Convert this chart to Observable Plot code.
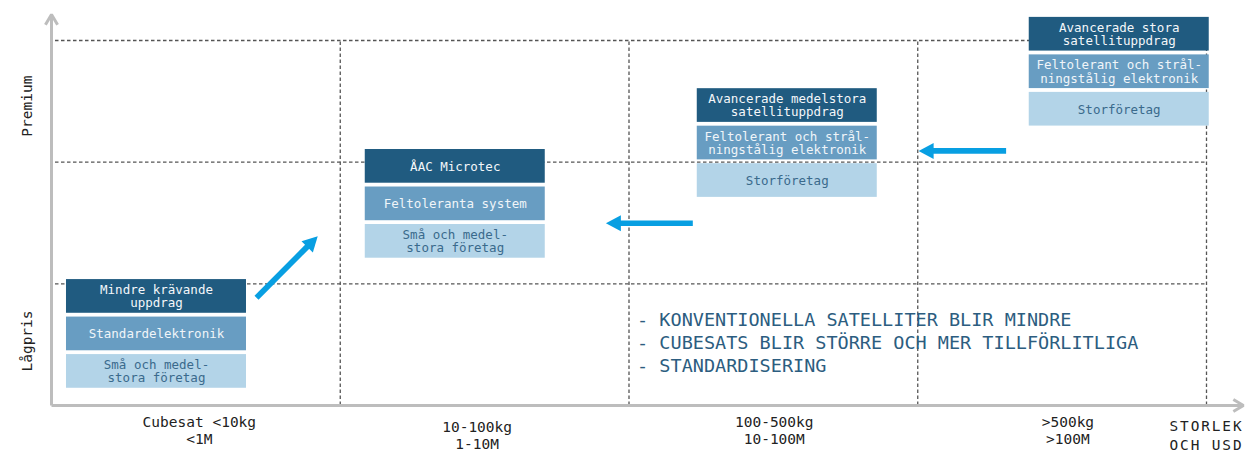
<!DOCTYPE html>
<html><head><meta charset="utf-8">
<script src="https://cdn.jsdelivr.net/npm/d3@7"></script>
<script src="https://cdn.jsdelivr.net/npm/@observablehq/plot@0.6"></script>
<style>body{margin:0;background:#fff}</style>
</head><body><div id="chart"></div>
<script>
// ---- data ----
const sizeLabels = ["Cubesat <10kg\n<1M", "10-100kg\n1-10M", "100-500kg\n10-100M", ">500kg\n>100M"];
const sizeLabelX = [0.512, 1.474, 2.503, 3.52];
const priceLabels = ["Lågpris", "Premium"];
const priceLabelY = [0.53, 2.46];
const axisTitle = "STORLEK\nOCH USD";

const missions = ["Mindre krävande\nuppdrag", "ÅAC Microtec", "Avancerade medelstora\nsatellituppdrag", "Avancerade stora\nsatellituppdrag"];
const electronics = ["Standardelektronik", "Feltoleranta system", "Feltolerant och strål-\nningstålig elektronik", "Feltolerant och strål-\nningstålig elektronik"];
const customers = ["Små och medel-\nstora företag", "Små och medel-\nstora företag", "Storföretag", "Storföretag"];
const boxCenterX = [0.3636, 1.3983, 2.5481, 3.6978];
const boxTopY = [1.035, 2.104, 2.604, 3.19];

const trends = ["- KONVENTIONELLA SATELLITER BLIR MINDRE", "- CUBESATS BLIR STÖRRE OCH MER TILLFÖRLITLIGA", "- STANDARDISERING"];
const trendX = 2.028;
const trendY = 0.79;

const moveX1 = [0.710, 2.221, 3.306];
const moveY1 = [0.885, 1.498, 2.092];
const moveX2 = [0.922, 1.920, 3.003];
const moveY2 = [1.392, 1.498, 2.092];

const gridX = [1, 2, 3, 4];
const gridY = [1, 2, 3];

// ---- layout ----
const W = 1247, H = 453, ML = 51, MR = 41, MT = 40, MB = 48;
const XMAX = 4, YMAX = 3;
const kx = (W - ML - MR) / XMAX, ky = (H - MT - MB) / YMAX;
const BW = 180 / kx, BH = 33.7 / ky, STEP = 37.5 / ky;
const tierFill = ["#205b80", "#689dc2", "#b3d4e8"];
const tierText = ["#f4f7fa", "#f0f5f9", "#3a6a8c"];
const BLUE = "#089fe2";

const tiers = [missions, electronics, customers];
const boxes = tiers.flatMap((labels, t) => labels.map((label, i) => ({
  label, t, i,
  x1: boxCenterX[i] - BW / 2, x2: boxCenterX[i] + BW / 2,
  y2: boxTopY[i] - t * STEP, y1: boxTopY[i] - t * STEP - BH
})));

const moves = moveX1.map((x1, i) => ({x1, y1: moveY1[i], x2: moveX2[i], y2: moveY2[i],
  rot: Math.atan2((moveX2[i] - x1) * kx, (moveY2[i] - moveY1[i]) * ky) * 180 / Math.PI}));

const axesArrows = [
  {x1: 0, y1: 0, x2: 0, y2: 3.213},
  {x1: 0, y1: 0, x2: 4.128, y2: 0}
];

const ticks = sizeLabels.map((text, i) => ({text, x: sizeLabelX[i], i}));

const chart = Plot.plot({
  width: W, height: H,
  marginLeft: ML, marginRight: MR, marginTop: MT, marginBottom: MB,
  x: {domain: [0, XMAX], axis: null},
  y: {domain: [0, YMAX], axis: null},
  color: {type: "identity"},
  style: {fontFamily: "'DejaVu Sans Mono', monospace", background: "#fff", overflow: "visible"},
  marks: [
    Plot.ruleX(gridX, {y1: 0, y2: YMAX, stroke: "#555", strokeWidth: 1.3, strokeDasharray: "3.5,2.5"}),
    Plot.ruleY(gridY, {x1: 0, x2: XMAX, insetLeft: 4, stroke: "#555", strokeWidth: 1.3, strokeDasharray: "3.5,2.5"}),
    Plot.arrow(axesArrows, {x1: "x1", y1: "y1", x2: "x2", y2: "y2", stroke: "#bdbdbd", strokeWidth: 3, headLength: 5.9, headAngle: 62, strokeLinecap: "butt"}),
    Plot.rect(boxes, {x1: "x1", x2: "x2", y1: "y1", y2: "y2", fill: d => tierFill[d.t]}),
    Plot.text(boxes, {x: d => (d.x1 + d.x2) / 2, y: d => (d.y1 + d.y2) / 2, text: "label", fill: d => tierText[d.t], fontSize: 12.5, lineHeight: 1.07}),
    Plot.arrow(moves, {x1: "x1", y1: "y1", x2: "x2", y2: "y2", stroke: BLUE, strokeWidth: 5.7, headLength: 0, insetEnd: 13, strokeLinecap: "butt"}),
    Plot.vector(moves, {x: "x2", y: "y2", rotate: "rot", length: 15, r: 8, anchor: "end", shape: "spike", fill: BLUE, stroke: "none"}),
    Plot.text([trends.join("\n")], {x: trendX, y: trendY, textAnchor: "start", lineAnchor: "top", fontSize: 18.5, lineHeight: 1.243, fill: "#2c5d80"}),
    Plot.text(ticks.filter(d => d.i !== 1), {x: "x", text: "text", frameAnchor: "bottom", lineAnchor: "top", dy: 10, fontSize: 14.5, lineHeight: 1.14, fill: "#222"}),
    Plot.text(ticks.filter(d => d.i === 1), {x: "x", text: "text", frameAnchor: "bottom", lineAnchor: "top", dy: 15, fontSize: 14.5, lineHeight: 1.14, fill: "#222"}),
    Plot.text(priceLabels, {y: (d, i) => priceLabelY[i], frameAnchor: "left", textAnchor: "middle", rotate: -90, dx: -24, fontSize: 14.5, fill: "#222"}),
    Plot.text([axisTitle], {frameAnchor: "bottom-right", textAnchor: "middle", lineAnchor: "top", dy: 11, fontSize: 14.4, lineHeight: 1.38, fill: "#222"})
  ]
});
d3.select(chart).selectAll("text").filter(function() { return this.textContent.includes("STORLEK"); })
  .attr("letter-spacing", "1.9px");
document.getElementById("chart").appendChild(chart);
</script>
</body></html>
